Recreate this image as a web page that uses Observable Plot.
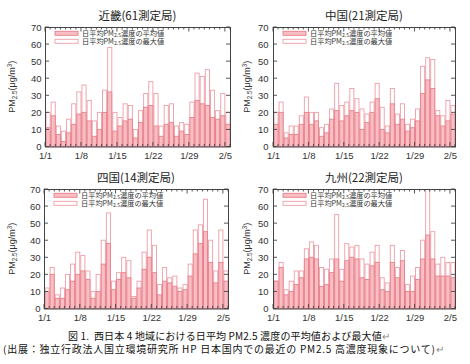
<!DOCTYPE html>
<html><head><meta charset="utf-8">
<script src="https://cdn.jsdelivr.net/npm/d3@7"></script>
<script src="https://cdn.jsdelivr.net/npm/@observablehq/plot@0.6"></script>
<style>
body{margin:0;background:#fff;}
#root{position:relative;width:470px;height:364px;overflow:hidden;background:#fff;}
.panel{position:absolute;width:235px;height:162px;}
.cap{position:absolute;font-family:"Noto Sans CJK JP",sans-serif;font-size:10px;line-height:12px;color:#111;white-space:nowrap;}
.ret{color:#888;}
</style></head><body><div id="root"></div>
<script>
// ---- data ----
const regions = ["近畿(61測定局)", "中国(21測定局)", "四国(14測定局)", "九州(22測定局)"];
const kinkiMean = [11,18,7,3,8,13,19,20,15,6,10,20,32,9,12,15,16,5,14,23,24,12,6,13,14,6,9,7,17,27,25,24,17,16,18,13];
const kinkiMax  = [20,26,12,9,16,25,32,36,27,15,20,33,58,20,17,25,24,10,21,31,38,31,12,24,25,12,14,13,26,43,41,45,33,21,31,20];
const chugokuMean = [13,20,5,7,7,13,20,13,15,6,8,16,21,15,18,21,20,10,14,20,28,10,8,25,13,16,9,11,15,31,39,34,18,12,15,19];
const chugokuMax  = [20,26,8,12,12,18,29,20,20,11,13,22,37,24,26,34,28,22,19,26,37,23,12,34,19,25,13,16,22,47,52,51,21,18,27,24];
const shikokuMean = [10,20,6,6,11,16,20,22,17,6,10,26,38,11,17,21,18,6,12,23,30,21,8,16,15,13,10,11,19,32,38,45,27,15,27,16];
const shikokuMax  = [12,24,8,12,20,26,33,31,22,10,20,40,56,16,21,30,28,7,16,33,46,37,14,24,18,19,12,14,26,46,49,64,40,22,46,22];
const kyushuMean = [16,24,8,10,14,18,29,30,29,13,14,21,29,16,28,30,29,18,17,25,27,11,10,27,18,28,10,10,17,29,43,29,19,19,19,18];
const kyushuMax  = [16,27,11,16,22,22,35,39,37,24,23,29,55,23,38,36,37,29,26,33,37,18,15,37,24,34,14,19,24,40,75,45,26,30,27,27];
const yTicks = [0,10,20,30,40,50,60,70];
const xTickLabels = ["1/1","1/8","1/15","1/22","1/29","2/5"];
const legendParts = [["日平均PM","2.5","濃度の平均値"],["日平均PM","2.5","濃度の最大値"]];
const captionLines = ["図 1.  西日本 4 地域における日平均 PM2.5 濃度の平均値および最大値", "(出展：独立行政法人国立環境研究所 HP 日本国内での最近の PM2.5 高濃度現象について)"];

// ---- styles ----
const meanFill = "#f8bec3", meanStroke = "#e7808b", maxStroke = "#ee9ea7";
const frameColor = "#444";

const days = d3.utcDay.range(new Date(Date.UTC(2013,0,1)), new Date(Date.UTC(2013,1,6)));
const xTicks = days.filter((d,i) => i % 7 === 0);

const root = document.getElementById("root");

function panel(name, mean, max, left, top, ml, mr) {
  const data = days.map((d,i) => ({date: d, mean: mean[i], max: max[i]}));
  const chart = Plot.plot({
    width: 235, height: 162,
    marginLeft: ml, marginRight: mr, marginTop: 27, marginBottom: 15.5,
    style: {fontFamily: "'Liberation Sans', Arial, sans-serif", fontSize: "9.5px", color: "#333", background: "transparent", overflow: "visible"},
    x: {type: "utc", domain: [days[0], d3.utcDay.offset(days[days.length-1], 1)]},
    y: {domain: [0, 70]},
    marks: [
      Plot.rectY(data, {x: "date", interval: "day", y: "max", fill: "white", stroke: maxStroke, strokeWidth: 0.9, clip: true}),
      Plot.rectY(data, {x: "date", interval: "day", y: "mean", fill: meanFill, stroke: meanStroke, strokeWidth: 0.9}),
      Plot.frame({stroke: frameColor, strokeWidth: 1}),
      Plot.axisX({ticks: xTicks, tickSize: 0, tickPadding: 5, label: null,
        tickFormat: d => xTickLabels[xTicks.findIndex(t => +t === +d)]}),
      Plot.axisY({ticks: yTicks, tickSize: 0, tickPadding: ml > 40 ? 4 : 5, label: null})
    ]
  });
  const svg = d3.select(chart);
  const xs = chart.scale("x"), ys = chart.scale("y");
  const X = v => xs.apply(v), Y = v => ys.apply(v);
  const x0 = ml, x1 = 235 - mr, yTop = Y(70), yBot = Y(0);
  const g = svg.append("g").attr("stroke", frameColor).attr("stroke-width", 0.9);
  // minor day ticks on top and bottom, inward
  const allDays = days.concat([d3.utcDay.offset(days[days.length-1], 1)]);
  allDays.forEach((d,i) => {
    const px = X(d);
    const len = (i % 7 === 0) ? 4.5 : 2.5;
    g.append("line").attr("x1", px).attr("x2", px).attr("y1", yBot).attr("y2", yBot - len);
    g.append("line").attr("x1", px).attr("x2", px).attr("y1", yTop).attr("y2", yTop + len);
  });
  yTicks.forEach(v => {
    const py = Y(v);
    g.append("line").attr("x1", x0).attr("x2", x0 + 4).attr("y1", py).attr("y2", py);
    g.append("line").attr("x1", x1).attr("x2", x1 - 4).attr("y1", py).attr("y2", py);
  });
  // title
  svg.append("text").attr("x", (x0 + x1) / 2).attr("y", 19.5).attr("text-anchor", "middle")
    .style("font-family", "'Noto Sans CJK JP', sans-serif").style("font-size", "11.5px").attr("fill", "#222").text(name);
  // y label
  const yl = svg.append("text").attr("transform", `translate(15,${(yTop + yBot) / 2}) rotate(-90)`)
    .attr("text-anchor", "middle").style("font-family", "'Liberation Sans', Arial, sans-serif")
    .style("font-size", "9px").attr("fill", "#333");
  yl.append("tspan").text("PM");
  yl.append("tspan").attr("dy", 2).style("font-size", "6.3px").text("2.5");
  yl.append("tspan").attr("dy", -2).text("(μg/m");
  yl.append("tspan").attr("dy", -3).style("font-size", "6.3px").text("3");
  yl.append("tspan").attr("dy", 3).text(")");
  // legend
  const lx = x0 + 10, ly = yTop + 4.3;
  legendParts.forEach((parts, k) => {
    const yy = ly + k * 8;
    svg.append("rect").attr("x", lx).attr("y", yy).attr("width", 23).attr("height", 4)
      .attr("fill", k === 0 ? meanFill : "white").attr("stroke", k === 0 ? meanStroke : maxStroke).attr("stroke-width", 0.9);
    const t = svg.append("text").attr("x", lx + 27).attr("y", yy + 4.3).attr("text-anchor", "start")
      .style("font-family", "'Noto Sans CJK JP', sans-serif").style("font-size", "7.2px").attr("fill", "#333");
    t.append("tspan").text(parts[0]);
    t.append("tspan").attr("dy", 1.6).style("font-size", "5.1px").text(parts[1]);
    t.append("tspan").attr("dy", -1.6).text(parts[2]);
  });
  const div = document.createElement("div");
  div.className = "panel";
  div.style.left = left + "px";
  div.style.top = top + "px";
  div.appendChild(chart);
  root.appendChild(div);
}

panel(regions[0], kinkiMean, kinkiMax, 0, 0, 45, 5);
panel(regions[1], chugokuMean, chugokuMax, 235, 0, 38, 15);
panel(regions[2], shikokuMean, shikokuMax, 0, 161.5, 44, 7);
panel(regions[3], kyushuMean, kyushuMax, 235, 161.5, 38, 15);

const c1 = document.createElement("div");
c1.className = "cap"; c1.style.left = "68px"; c1.style.top = "330px"; c1.style.letterSpacing = "0.15px";
c1.innerHTML = captionLines[0].replace(/  /g, "&nbsp; ") + '<span class="ret">↵</span>';
root.appendChild(c1);
const c2 = document.createElement("div");
c2.className = "cap"; c2.style.left = "3px"; c2.style.top = "343px"; c2.style.letterSpacing = "0.75px";
c2.innerHTML = captionLines[1] + '<span class="ret">↵</span>';
root.appendChild(c2);
</script>
</body></html>
